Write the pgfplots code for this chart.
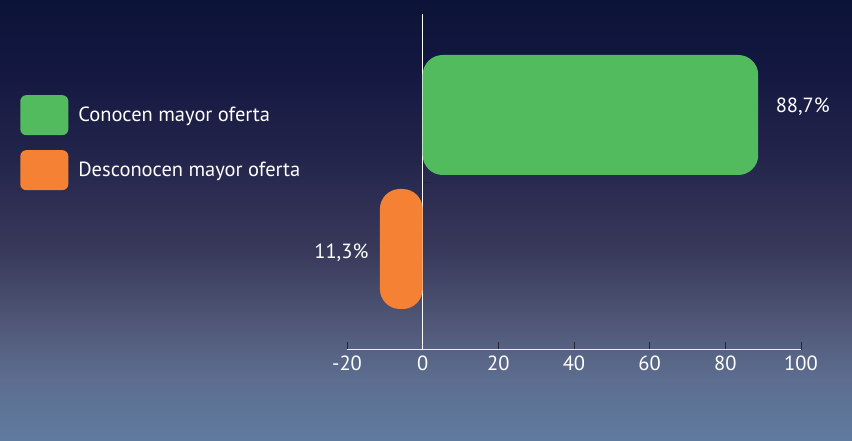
\documentclass[border=0pt]{standalone}
\usepackage{pgfplots}
\pgfplotsset{compat=1.18}
\usepackage{fontspec}
\setmainfont{PT Sans}
\definecolor{cgreen}{HTML}{52BB5E}
\definecolor{corange}{HTML}{F48134}
\definecolor{bg0}{HTML}{5F7B9F}
\definecolor{bg1}{HTML}{5D6E90}
\definecolor{bg2}{HTML}{525A7A}
\definecolor{bg3}{HTML}{38395A}
\definecolor{bg4}{HTML}{22234A}
\definecolor{bg5}{HTML}{12173F}
\definecolor{bg6}{HTML}{0C1338}
\pgfdeclareverticalshading{bgshade}{100bp}{color(0bp)=(bg0); color(25bp)=(bg0); color(31.9bp)=(bg1); color(37.6bp)=(bg2); color(46.7bp)=(bg3); color(58bp)=(bg4); color(68.2bp)=(bg5); color(75bp)=(bg6); color(100bp)=(bg6)}
\newcommand\lblfont{\fontsize{20.5}{24}\selectfont}
\begin{document}
\begin{tikzpicture}
\shade[shading=bgshade] (0,0) rectangle (852pt,441pt);
\begin{axis}[
  at={(347pt,91pt)}, anchor=south west,
  scale only axis, width=454pt, height=336pt,
  xmin=-20, xmax=100, ymin=0, ymax=336,
  axis x line=bottom, axis y line=center,
  axis line style={-},
  x axis line style={draw=white!85!gray, line width=1pt},
  y axis line style={draw=white, line width=1pt},
  xtick={-20,0,20,40,60,80,100}, ytick={168}, yticklabels={},
  tick align=inside, major tick length=8pt,
  tick style={draw=black!85, line width=0.8pt},
  ticklabel style={font=\lblfont, text=white},
  xticklabel style={yshift=-2pt},
  /pgf/number format/assume math mode=true,
  clip=false,
  legend style={at={(axis description cs:-0.720,0.759)}, anchor=north west,
    draw=none, fill=none, text=white, inner sep=0pt,
    font=\lblfont, row sep=15pt,
    /tikz/every odd column/.append style={column sep=8pt}},
  legend cell align=left,
]
\addplot[xbar, bar shift=0pt, bar width=120pt, fill=cgreen, draw=none, rounded corners=20pt,
  nodes near coords, point meta=explicit symbolic,
  nodes near coords style={text=white, font=\lblfont, anchor=west, xshift=14pt, yshift=8pt},
  legend image code/.code={\fill[cgreen, rounded corners=6pt] (0pt,-20pt) rectangle (48pt,20pt);}]
  coordinates {(88.7,235) [88,7\%]};
\addlegendentry{Conocen mayor oferta}
\addplot[xbar, bar shift=0pt, bar width=120pt, fill=corange, draw=none, rounded corners=20pt,
  nodes near coords, point meta=explicit symbolic,
  nodes near coords style={text=white, font=\lblfont, anchor=east, xshift=-8pt, yshift=-4pt},
  legend image code/.code={\fill[corange, rounded corners=6pt] (0pt,-20pt) rectangle (48pt,20pt);}]
  coordinates {(-11.3,101) [11,3\%]};
\addlegendentry{Desconocen mayor oferta}
\end{axis}
\end{tikzpicture}
\end{document}
